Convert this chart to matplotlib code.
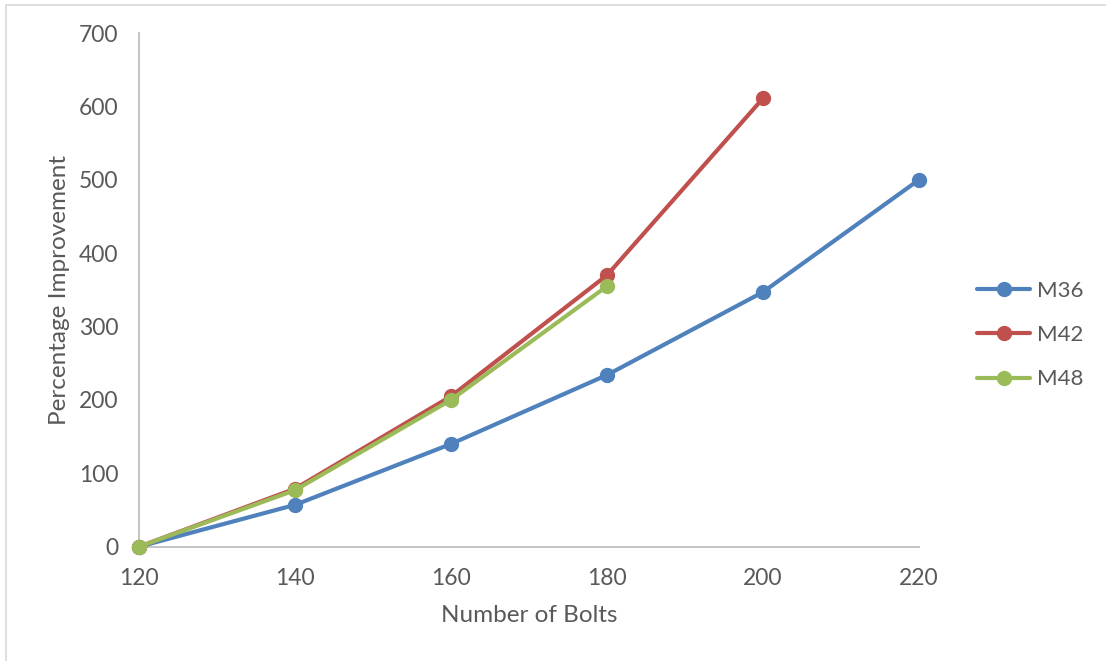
import matplotlib
matplotlib.use("Agg")
import matplotlib.pyplot as plt
from matplotlib.patches import Rectangle

plt.rcParams['font.family'] = ['Lato', 'DejaVu Sans']

bolts = [120, 140, 160, 180, 200, 220]
m36 = [0, 57, 140, 234, 347, 500]
m42 = [0, 79, 205, 370, 611]
m48 = [0, 77, 200, 355]
series_names = ["M36", "M42", "M48"]
colors = ["#4F81BD", "#C0504D", "#9BBB59"]
x_ticks = [120, 140, 160, 180, 200, 220]
y_ticks = [0, 100, 200, 300, 400, 500, 600, 700]

W, H = 1106, 661
fig = plt.figure(figsize=(W / 100, H / 100), dpi=100)
ax = fig.add_axes([139 / W, (H - 546.7) / H, (919 - 139) / W, (546.7 - 33) / H])

text_color = "#595959"
axis_color = "#BFBFBF"

for vals, name, c in zip([m36, m42, m48], series_names, colors):
    ax.plot(bolts[:len(vals)], vals, color=c, lw=3, marker="o", ms=10,
            label=name, solid_capstyle="round", clip_on=False, zorder=3)

ax.set_xlim(120, 220)
ax.set_ylim(0, 700)
ax.set_xticks(x_ticks)
ax.set_yticks(y_ticks)
ax.tick_params(axis="both", length=0, labelsize=16.5, colors=text_color)
ax.tick_params(axis="x", pad=15)
ax.tick_params(axis="y", pad=15)

for side in ["top", "right"]:
    ax.spines[side].set_visible(False)
for side in ["left", "bottom"]:
    ax.spines[side].set_color(axis_color)
    ax.spines[side].set_linewidth(1.3)

ax.set_xlabel("Number of Bolts", fontsize=17.5, color=text_color, labelpad=12)
ax.set_ylabel("Percentage Improvement", fontsize=17.5, color=text_color, labelpad=6)

leg = ax.legend(loc="center left", bbox_to_anchor=(957 / W, (H - 335) / H),
                bbox_transform=fig.transFigure, frameon=False, fontsize=16,
                labelspacing=1.1, handlelength=2.4, handletextpad=0.3,
                labelcolor=text_color)

fig.patches.append(Rectangle((6 / W, -0.1), 1.2, 1 - 5 / H + 0.1,
                             transform=fig.transFigure, fill=False,
                             edgecolor="#D9D9D9", lw=1.2))

fig.savefig("out.png", dpi=100)
